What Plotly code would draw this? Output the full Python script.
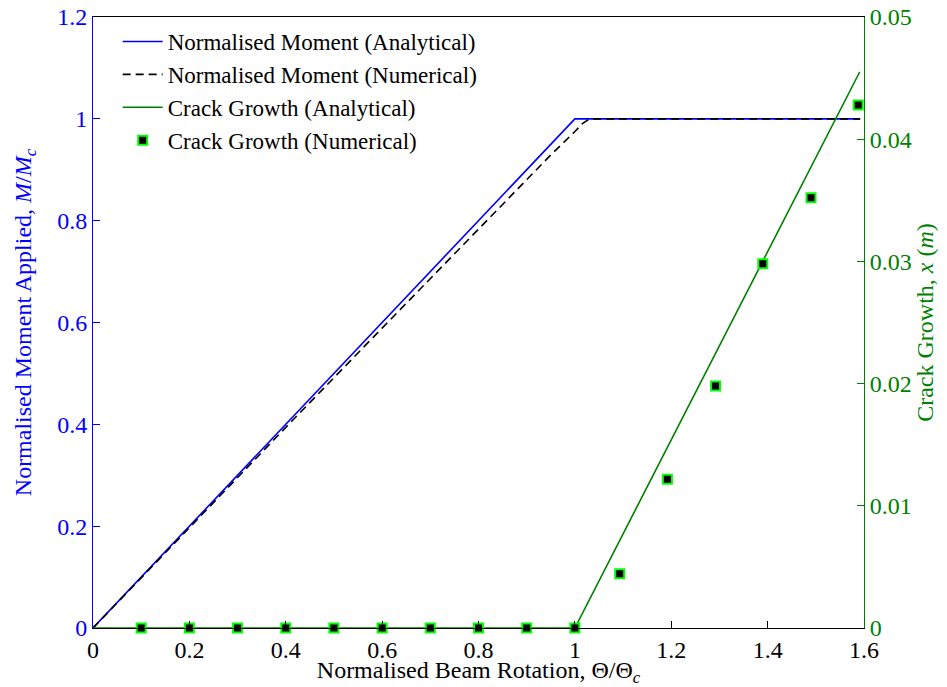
import plotly.graph_objects as go

# Normalised beam rotation (x) and moment response
moment_x = [0.0, 1.0, 1.592]
moment_analytical = [0.0, 1.0, 1.0]

moment_num_x = [0.0, 0.2, 0.4, 0.6, 0.8, 0.9, 0.95, 1.0, 1.015, 1.03, 1.592]
moment_numerical = [0.0, 0.198, 0.394, 0.589, 0.784, 0.881, 0.929, 0.975, 0.99, 1.0, 1.0]

# Crack growth (m)
crack_x = [0.0, 1.0, 1.591]
crack_analytical = [0.0, 0.0, 0.0455]

crack_num_x = [0.1, 0.2, 0.3, 0.4, 0.5, 0.6, 0.7, 0.8, 0.9, 1.0,
               1.093, 1.192, 1.292, 1.39, 1.49, 1.588]
crack_numerical = [0, 0, 0, 0, 0, 0, 0, 0, 0, 0,
                   0.00444, 0.01217, 0.0198, 0.0298, 0.0352, 0.0428]

x_ticks = [0, 0.2, 0.4, 0.6, 0.8, 1.0, 1.2, 1.4, 1.6]
left_ticks = [0, 0.2, 0.4, 0.6, 0.8, 1.0, 1.2]
right_ticks = [0, 0.01, 0.02, 0.03, 0.04, 0.05]

BLUE = "#0000ff"
GREEN = "#008000"
FONT = "Liberation Serif"
SIZE = 24

fig = go.Figure()
fig.add_trace(go.Scatter(x=moment_x, y=moment_analytical, mode="lines",
                         name="Normalised Moment (Analytical)",
                         line=dict(color=BLUE, width=1.6)))
fig.add_trace(go.Scatter(x=moment_num_x, y=moment_numerical, mode="lines",
                         name="Normalised Moment (Numerical)",
                         line=dict(color="black", width=1.6, dash="8px,5px")))
fig.add_trace(go.Scatter(x=crack_x, y=crack_analytical, mode="lines",
                         name="Crack Growth (Analytical)", yaxis="y2",
                         line=dict(color=GREEN, width=1.6), cliponaxis=False))
fig.add_trace(go.Scatter(x=crack_num_x, y=crack_numerical, mode="markers",
                         name="Crack Growth (Numerical)", yaxis="y2",
                         cliponaxis=False,
                         marker=dict(symbol="square", size=9, color="black",
                                     line=dict(color="#00ff00", width=2))))

fig.update_layout(
    width=947, height=687,
    margin=dict(l=93, r=83, t=17, b=59, autoexpand=False),
    paper_bgcolor="white", plot_bgcolor="white",
    font=dict(family=FONT, size=SIZE, color="black"),
    showlegend=True,
    legend=dict(x=0.032, y=0.995, xanchor="left", yanchor="top",
                bgcolor="rgba(0,0,0,0)", borderwidth=0,
                font=dict(family=FONT, size=23), itemwidth=40,
                tracegroupgap=0),
    xaxis=dict(range=[0, 1.6], tickvals=x_ticks, ticktext=[f"{v:g}" for v in x_ticks],
               ticks="inside", ticklen=7, tickcolor="black",
               showline=True, linecolor="black", linewidth=1, mirror=True,
               showgrid=False, zeroline=False, automargin=False,
               tickfont=dict(family=FONT, size=SIZE, color="black"),
               title=dict(text="Normalised Beam Rotation, Θ/Θ<sub><i>c</i></sub>",
                          font=dict(family=FONT, size=SIZE), standoff=0)),
    yaxis=dict(range=[0, 1.2], tickvals=left_ticks, ticktext=[f"{v:g}" for v in left_ticks],
               ticks="inside", ticklen=7, tickcolor=BLUE,
               showline=True, linecolor=BLUE, linewidth=1,
               showgrid=False, zeroline=False, automargin=False,
               tickfont=dict(family=FONT, size=SIZE, color=BLUE),
               title=dict(text="Normalised Moment Applied, <i>M</i>/<i>M</i><sub><i>c</i></sub>",
                          font=dict(family=FONT, size=SIZE, color=BLUE), standoff=18)),
    yaxis2=dict(range=[0, 0.05], tickvals=right_ticks, ticktext=[f"{v:g}" for v in right_ticks],
                overlaying="y", side="right",
                ticks="inside", ticklen=7, tickcolor=GREEN,
                showline=True, linecolor=GREEN, linewidth=1,
                showgrid=False, zeroline=False, automargin=False,
                tickfont=dict(family=FONT, size=SIZE, color=GREEN),
                title=dict(text="Crack Growth, <i>x</i> (<i>m</i>)",
                           font=dict(family=FONT, size=SIZE, color=GREEN), standoff=4)),
)

fig.write_html("out.html")
